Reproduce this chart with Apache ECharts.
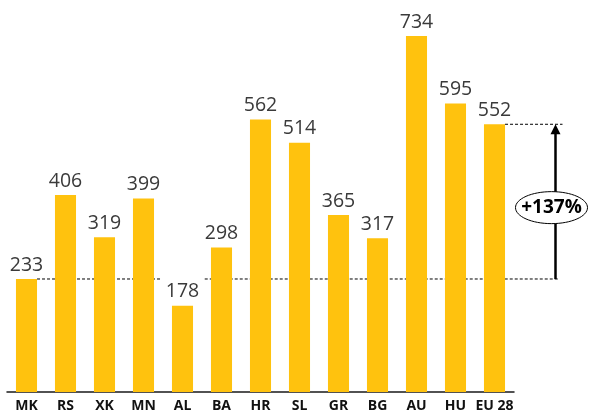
<!DOCTYPE html>
<html>
<head>
<meta charset="utf-8">
<script src="https://cdn.jsdelivr.net/npm/echarts@6/dist/echarts.min.js"></script>
<style>
  html, body { margin: 0; padding: 0; background: #fff; }
  #chart { width: 598px; height: 414px; }
</style>
</head>
<body>
<div id="chart"></div>
<script>
// Data
const countries = ["MK", "RS", "XK", "MN", "AL", "BA", "HR", "SL", "GR", "BG", "AU", "HU", "EU 28"];
const values = [233, 406, 319, 399, 178, 298, 562, 514, 365, 317, 734, 595, 552];

// Annotation: growth from the first country to the EU 28 average
const baseIndex = 0;
const targetIndex = countries.length - 1;
const changeLabel = "+" + Math.round((values[targetIndex] / values[baseIndex] - 1) * 100) + "%";

const FONT = "'Open Sans', sans-serif";
const BAR_COLOR = "#FFC20E";

const chartDom = document.getElementById("chart");
const myChart = echarts.init(chartDom);

const option = {
  animation: false,
  grid: { left: 7, right: 84, top: 4, bottom: 22, containLabel: false },
  xAxis: {
    type: "category",
    data: countries,
    axisLine: { lineStyle: { color: "#1a1a1a", width: 1.5 } },
    axisTick: { show: false },
    axisLabel: {
      interval: 0,
      margin: 7,
      fontFamily: FONT,
      fontSize: 14,
      fontWeight: "bold",
      color: "#111",
    },
  },
  yAxis: {
    type: "value",
    min: 0,
    max: 800,
    show: false,
    splitLine: { show: false },
  },
  series: [
    {
      type: "bar",
      data: values,
      barCategoryGap: "46%",
      itemStyle: { color: BAR_COLOR },
      label: {
        show: true,
        position: "top",
        distance: 4,
        fontFamily: FONT,
        fontSize: 19.5,
        color: "#3a3a3a",
      },
    },
  ],
};

myChart.setOption(option);

// Annotation lines drawn from the chart's own scales
function px(cat, val) {
  return myChart.convertToPixel({ xAxisIndex: 0, yAxisIndex: 0 }, [cat, val]);
}

const catW = px(countries[1], 0)[0] - px(countries[0], 0)[0];
const barHalf = catW * 0.54 / 2;
const baseP = px(countries[baseIndex], values[baseIndex]);
const targetP = px(countries[targetIndex], values[targetIndex]);
const arrowX = targetP[0] + 61;
const lineEnd = arrowX + 4;
const dash = { stroke: "#000", lineWidth: 1, lineDash: [3, 2] };

const gapLeft = px("MN", 0)[0] + catW * 0.43;
const gapRight = px("BA", 0)[0] - catW * 0.43;
const midY = (baseP[1] + targetP[1]) / 2 + 6;

myChart.setOption({
  graphic: [
    { type: "line", shape: { x1: baseP[0] + barHalf, y1: baseP[1], x2: gapLeft, y2: baseP[1] }, style: dash },
    { type: "line", shape: { x1: gapRight, y1: baseP[1], x2: lineEnd, y2: baseP[1] }, style: dash },
    { type: "line", shape: { x1: targetP[0] + barHalf, y1: targetP[1], x2: lineEnd + 3, y2: targetP[1] }, style: dash },
    {
      type: "line",
      shape: { x1: arrowX, y1: baseP[1], x2: arrowX, y2: targetP[1] + 8 },
      style: { stroke: "#000", lineWidth: 2.5 },
    },
    {
      type: "polygon",
      shape: { points: [[arrowX, targetP[1]], [arrowX - 5, targetP[1] + 10], [arrowX + 5, targetP[1] + 10]] },
      style: { fill: "#000" },
    },
    {
      type: "ellipse",
      shape: { cx: arrowX - 4, cy: midY, rx: 36, ry: 16 },
      style: { fill: "#fff", stroke: "#000", lineWidth: 1 },
      z: 10,
    },
    {
      type: "text",
      x: arrowX - 4,
      y: midY,
      z: 11,
      style: {
        text: changeLabel,
        fontFamily: FONT,
        fontSize: 19,
        fontWeight: "bold",
        fill: "#000",
        align: "center",
        verticalAlign: "middle",
      },
    },
  ],
});

window.addEventListener("resize", function () {
  myChart.resize();
});
</script>
</body>
</html>
